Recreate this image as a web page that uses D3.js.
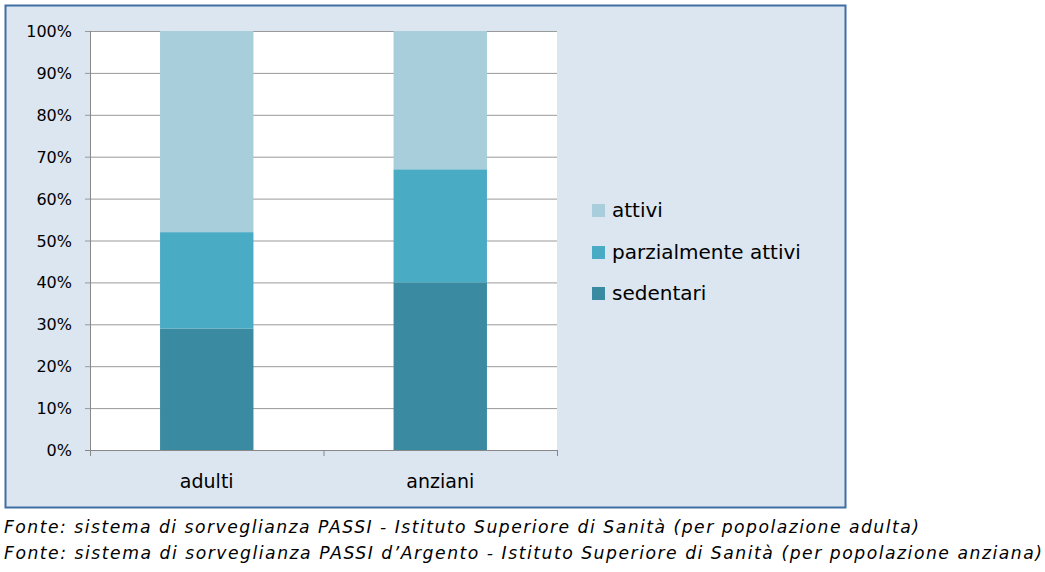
<!DOCTYPE html><html><head><meta charset="utf-8">
<script src="https://cdn.jsdelivr.net/npm/d3@7"></script>
<style>body{margin:0;background:#fff}</style></head><body>
<svg id="c" width="1045" height="572"></svg>
<script>
const categories=["adulti","anziani"];
const seriesNames=["sedentari","parzialmente attivi","attivi"];
const sedentari=[29,40];
const parziali=[23,27];
const attivi=[48,33];
const colors=["#3a8ba1","#4aabc5","#a8cddb"];
const ticks=[0,10,20,30,40,50,60,70,80,90,100];
const svg=d3.select("#c");
const font="DejaVu Sans, sans-serif";
svg.append("rect").attr("x",5.5).attr("y",5.5).attr("width",840).attr("height",502).attr("fill","#dce6f1").attr("stroke","#3f6fa3").attr("stroke-width",2);
const L=90,R=557,T=31,B=450;
svg.append("rect").attr("x",L).attr("y",T).attr("width",R-L).attr("height",B-T).attr("fill","#fff");
const x=d3.scaleBand().domain(categories).range([L,R]).paddingInner(0.6).paddingOuter(0.3);
const xb=d3.scaleBand().domain(categories).range([L,R]);
const y=d3.scaleLinear().domain([0,100]).range([B,T]);
ticks.forEach(t=>{svg.append("line").attr("x1",L-5).attr("x2",R).attr("y1",y(t)+.5).attr("y2",y(t)+.5).attr("stroke",t===0?"#888":"#999").attr("stroke-width",1);
svg.append("text").attr("x",L-18).attr("y",y(t)+6).attr("text-anchor","end").attr("font-family",font).attr("font-size",16).text(t+"%");});
svg.append("line").attr("x1",L+.5).attr("x2",L+.5).attr("y1",T).attr("y2",B+6).attr("stroke","#888");
[L,L+xb.bandwidth(),R].forEach(v=>svg.append("line").attr("x1",v+.5).attr("x2",v+.5).attr("y1",B).attr("y2",B+6).attr("stroke","#888"));
const data=categories.map((c,i)=>({cat:c,sedentari:sedentari[i],parziali:parziali[i],attivi:attivi[i]}));
const stack=d3.stack().keys(["sedentari","parziali","attivi"])(data);
stack.forEach((s,k)=>s.forEach(d=>svg.append("rect").attr("x",x(d.data.cat)).attr("width",x.bandwidth()).attr("y",y(d[1])).attr("height",y(d[0])-y(d[1])).attr("fill",colors[k])));
categories.forEach(c=>svg.append("text").attr("x",xb(c)+xb.bandwidth()/2).attr("y",488).attr("text-anchor","middle").attr("font-family",font).attr("font-size",19).text(c));
const ly=[299,258,216];
seriesNames.forEach((n,i)=>{svg.append("rect").attr("x",592).attr("y",ly[i]-12).attr("width",13).attr("height",13).attr("fill",colors[i]);
svg.append("text").attr("x",612).attr("y",ly[i]+1).attr("font-family",font).attr("font-size",20).text(n);});
["Fonte: sistema di sorveglianza PASSI - Istituto Superiore di Sanità (per popolazione adulta)","Fonte: sistema di sorveglianza PASSI d’Argento - Istituto Superiore di Sanità (per popolazione anziana)"].forEach((t,i)=>svg.append("text").attr("x",4).attr("y",533+i*26).attr("font-family",font).attr("font-style","italic").attr("font-size",17.2).attr("textLength",i?1038:915).text(t));
</script></body></html>
